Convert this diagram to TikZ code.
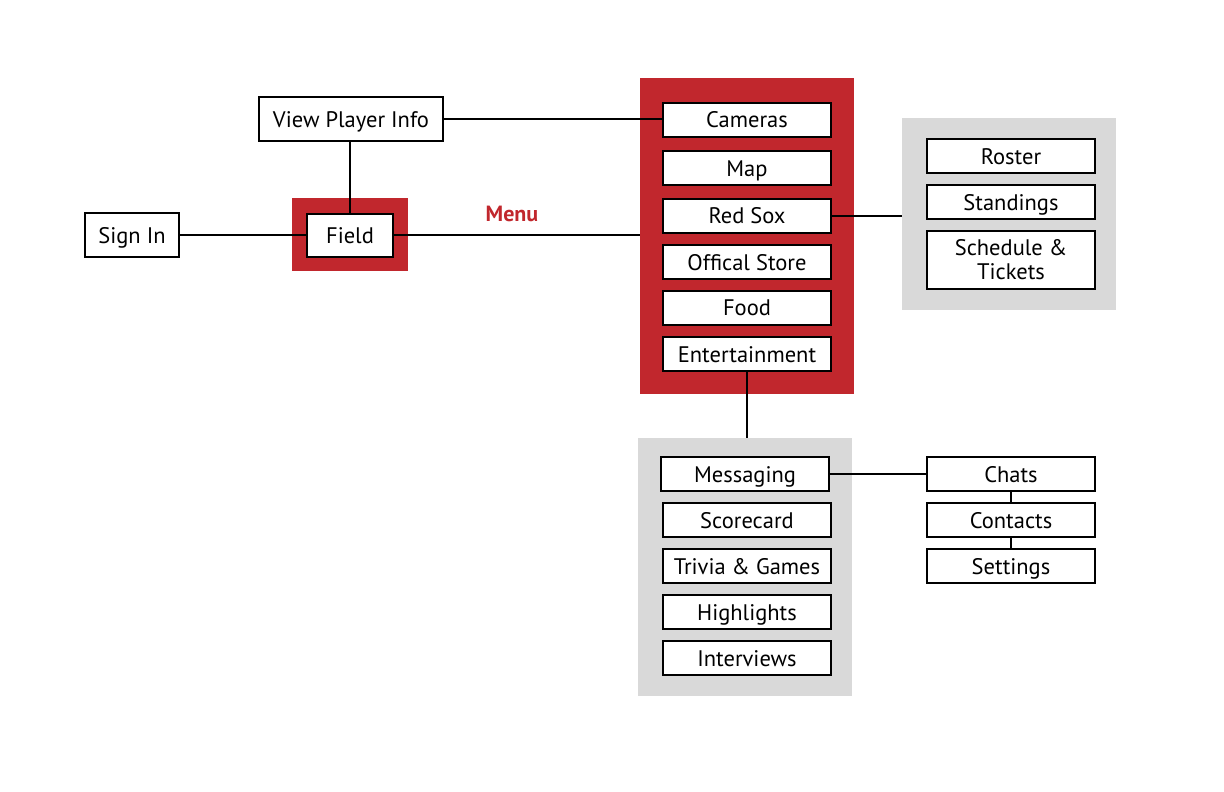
\documentclass[tikz,border=0pt]{standalone}
\usepackage{fontspec}
\setmainfont{PT Sans}
\definecolor{soxred}{HTML}{C1272D}
\definecolor{panelgray}{HTML}{D9D9D9}
\begin{document}
\begin{tikzpicture}[x=1pt,y=-1pt,
  item/.style={draw=black, line width=2pt, fill=white, inner sep=0pt,
    minimum width=168pt, minimum height=34pt, align=center,
    text height=20pt, text depth=4pt,
    font=\fontsize{22.5}{24}\selectfont},
  panel/.style={fill=#1, inner sep=0pt, draw=none},
  link/.style={line width=2pt}]
\useasboundingbox (0,0) rectangle (1224,792);

% background panels
\node[panel=soxred, minimum width=116pt, minimum height=73pt] (fieldpanel) at (350,234.5) {};
\node[panel=soxred, minimum width=214pt, minimum height=316pt] (menupanel) at (747,236) {};
\node[panel=panelgray, minimum width=214pt, minimum height=192pt] (teampanel) at (1009,214) {};
\node[panel=panelgray, minimum width=214pt, minimum height=258pt] (entpanel) at (745,567) {};

% left side
\node[item, minimum width=94pt, minimum height=44pt] (signin) at (132,235) {Sign In};
\node[item, minimum width=86pt, minimum height=43pt] (field) at (350,235) {Field};
\node[item, minimum width=184pt, minimum height=44pt] (vpi) at (351,119) {View Player Info};

% menu
\node[item] (cameras) at (747,119.5) {Cameras};
\node[item] (map) at (747,168) {Map};
\node[item] (redsox) at (747,215.5) {Red Sox};
\node[item] (store) at (747,262) {Offical Store};
\node[item] (food) at (747,307.5) {Food};
\node[item] (ent) at (747,354) {Entertainment};

% team pages
\node[item] (roster) at (1011,156) {Roster};
\node[item] (standings) at (1011,202) {Standings};
\node[item, minimum height=58pt, text height=, text depth=] (sched) at (1011,260) {Schedule \&\\Tickets};

% entertainment pages
\node[item] (msg) at (745,474) {Messaging};
\node[item] (score) at (747,520) {Scorecard};
\node[item] (trivia) at (747,566) {Trivia \& Games};
\node[item] (high) at (747,612) {Highlights};
\node[item] (inter) at (747,658) {Interviews};

% messaging pages
\node[item] (chats) at (1011,474) {Chats};
\node[item] (contacts) at (1011,520) {Contacts};
\node[item] (settings) at (1011,566) {Settings};

% label
\node[text=soxred, font=\fontsize{22}{24}\selectfont\bfseries] (menulabel) at (512,214) {Menu};

% connectors
\draw[link] (signin.east) -- (field.west);
\draw[link] (vpi.south -| field.north) -- (field.north);
\draw[link] (vpi.east) -- (vpi.east -| cameras.west);
\draw[link] (field.east) -- (field.east -| menupanel.west);
\draw[link] (redsox.east) -- (redsox.east -| teampanel.west);
\draw[link] (ent.south) -- (ent.south |- entpanel.north);
\draw[link] (msg.east) -- (msg.east -| chats.west);
\draw[link] (chats.south) -- (contacts.north);
\draw[link] (contacts.south) -- (settings.north);
\end{tikzpicture}
\end{document}
